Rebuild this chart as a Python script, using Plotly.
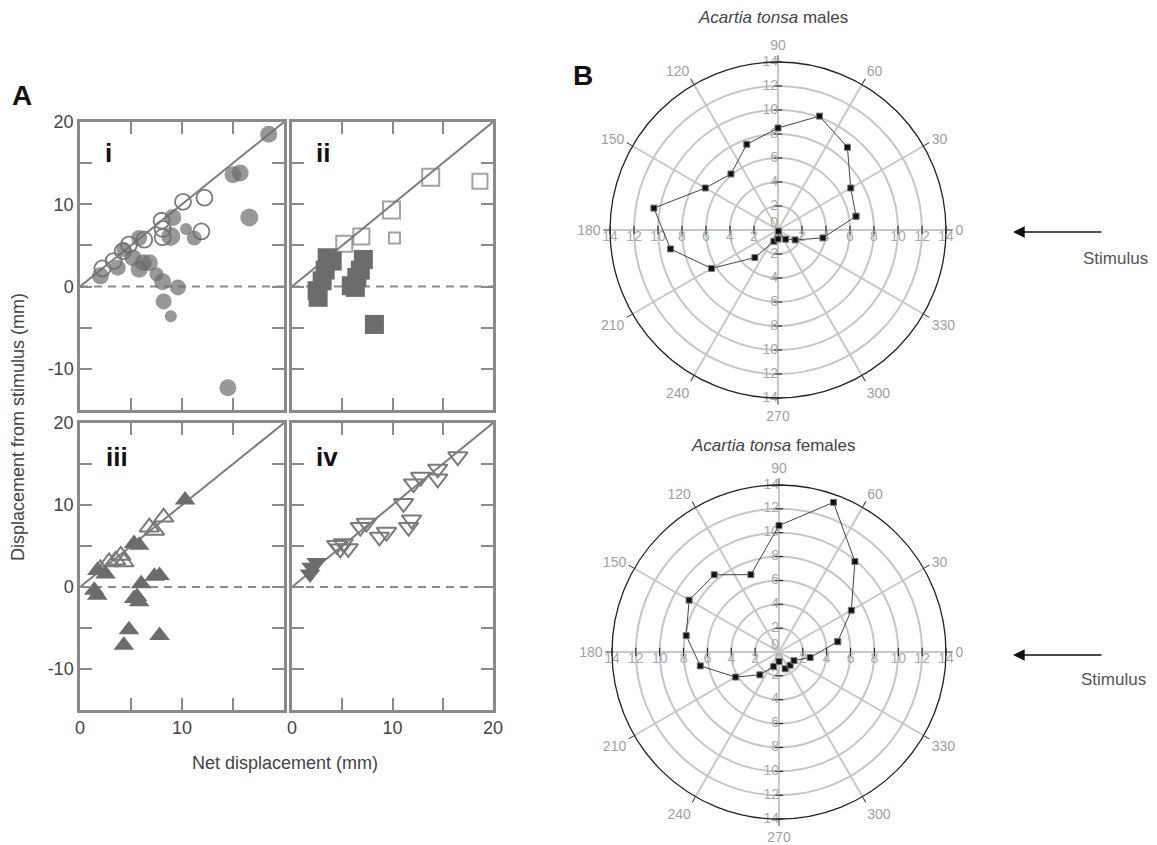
import plotly.graph_objects as go

W, H = 1157, 845
FONT = "Liberation Sans, Arial, sans-serif"

# ---------------- Panel A data ----------------
i_filled_x = [18.5, 15.0, 15.7, 16.6, 9.1, 8.9, 10.4, 11.2, 5.8, 4.3, 5.2, 6.2, 6.8, 5.8, 3.7, 2.0, 7.5, 8.1, 9.6, 8.2, 8.9, 14.5]
i_filled_y = [18.5, 13.6, 13.8, 8.4, 8.4, 6.1, 7.0, 5.9, 5.9, 4.5, 3.5, 2.9, 2.9, 2.1, 2.3, 1.3, 1.5, 0.6, -0.1, -1.8, -3.6, -12.3]
i_filled_s = [17, 17, 17, 18, 17, 19, 12, 15, 16, 15, 17, 17, 17, 17, 16, 17, 14, 17, 16, 16, 12, 17]
i_open_x = [12.2, 10.1, 8.0, 8.1, 8.1, 11.9, 6.3, 4.8, 4.2, 3.3, 2.2]
i_open_y = [10.8, 10.3, 8.0, 7.0, 6.0, 6.7, 5.7, 5.1, 4.3, 3.1, 2.2]

ii_open_x = [13.8, 18.7, 9.9, 6.9, 5.2, 10.2]
ii_open_y = [13.3, 12.8, 9.3, 6.1, 5.2, 5.9]
ii_open_s = [17, 15, 17, 16, 16, 11]
ii_filled_x = [3.5, 4.0, 3.3, 3.0, 2.5, 2.6, 7.1, 6.8, 6.45, 6.3, 5.9, 8.2]
ii_filled_y = [3.5, 3.1, 2.0, 0.7, -0.5, -1.3, 3.3, 2.0, 1.1, -0.1, 0.1, -4.6]

iii_filled_x = [10.3, 5.8, 5.3, 2.5, 1.7, 1.4, 1.7, 6.0, 5.6, 5.8, 5.3, 7.8, 7.3, 4.8, 4.3, 7.8]
iii_filled_y = [10.6, 5.1, 5.3, 1.6, 2.0, -0.4, -1.0, 0.4, -1.2, -1.8, -1.4, 1.4, 1.3, -5.2, -7.1, -5.9]
iii_open_x = [8.2, 6.8, 7.3, 4.0, 3.5, 2.85, 4.3, 2.0]
iii_open_y = [8.5, 7.3, 6.9, 3.85, 3.25, 3.05, 3.05, 2.2]

iv_open_x = [16.5, 14.5, 14.5, 12.8, 12.1, 11.1, 11.9, 11.6, 7.4, 6.8, 8.7, 9.4, 4.45, 5.1, 5.6, 4.8]
iv_open_y = [15.9, 14.4, 13.2, 13.4, 12.6, 10.2, 8.2, 7.3, 7.8, 7.3, 6.1, 6.7, 5.1, 5.3, 4.7, 4.65]
iv_filled_x = [1.95, 1.8, 2.45]
iv_filled_y = [2.4, 1.6, 3.0]

identity = [0, 20]          # y = x reference line
x_ticks = [0, 5, 10, 15, 20]
x_text_left = ["0", "", "10", "", ""]
x_text_right = ["0", "", "10", "", "20"]
y_ticks = [-15, -10, -5, 0, 5, 10, 15, 20]
y_text = ["", "-10", "", "0", "", "10", "", "20"]

# ---------------- Panel B data ----------------
theta_bins = [10, 30, 50, 70, 90, 110, 130, 150, 170, 190, 210, 230, 250, 270, 290, 310, 330, 350]
male_r = [6.6, 7.0, 9.0, 10.1, 8.5, 7.6, 6.1, 7.0, 10.5, 9.1, 6.4, 3.0, 1.0, 0.75, 0.1, 1.0, 1.65, 3.8]
female_r = [5.0, 7.0, 9.9, 13.35, 10.6, 6.9, 8.45, 8.7, 7.9, 6.7, 4.2, 2.5, 1.3, 0.8, 1.5, 1.45, 1.45, 2.65]
radial_ticks = [2, 4, 6, 8, 10, 12, 14]
angle_ticks = [0, 30, 60, 90, 120, 150, 180, 210, 240, 270, 300, 330]

GRAY_M = "#6c6c6c"
GRAY_O = "#7a7a7a"
FRAME = "#8a8a8a"

fig = go.Figure()

def px_x(p):
    return p / W

def px_y(p):
    return 1 - p / H

panels = [
    ("", (80, 284), (122, 410)),
    ("2", (292, 493), (122, 410)),
    ("3", (80, 284), (423, 710)),
    ("4", (292, 493), (423, 710)),
]

for suf, (x0, x1), (y0, y1) in panels:
    xa = "x" + suf
    ya = "y" + suf
    fig.add_trace(go.Scatter(x=identity, y=identity, mode="lines",
                             line=dict(color="#7c7c7c", width=2),
                             xaxis=xa, yaxis=ya, hoverinfo="skip", showlegend=False))
    fig.add_shape(type="line", xref=xa + " domain", yref=ya, x0=0, x1=1, y0=0, y1=0,
                  line=dict(color="#8c8c8c", width=2, dash="8px,6px"), layer="below")
    bottom = suf in ("3", "4")
    left = suf in ("", "3")
    fig.layout["xaxis" + suf] = dict(
        domain=[px_x(x0), px_x(x1)], range=[0, 20], anchor=ya, automargin=False,
        tickvals=x_ticks, ticktext=(x_text_right if suf == "4" else x_text_left),
        showticklabels=bottom, ticks="inside", ticklen=12, tickwidth=2, tickcolor=FRAME,
        showline=True, linecolor=FRAME, linewidth=2.5, mirror="ticks",
        showgrid=False, zeroline=False,
        tickfont=dict(family=FONT, size=18, color="#444"))
    fig.layout["yaxis" + suf] = dict(
        domain=[px_y(y1), px_y(y0)], range=[-15, 20], anchor=xa, automargin=False,
        tickvals=y_ticks, ticktext=y_text,
        showticklabels=left, ticks="inside", ticklen=12, tickwidth=2, tickcolor=FRAME,
        showline=True, linecolor=FRAME, linewidth=2.5, mirror="ticks",
        showgrid=False, zeroline=False,
        tickfont=dict(family=FONT, size=18, color="#444"))

fig.add_trace(go.Scatter(x=i_open_x, y=i_open_y, mode="markers", xaxis="x", yaxis="y",
                         marker=dict(symbol="circle-open", size=16, color=GRAY_O, line=dict(width=1.8)),
                         showlegend=False))
fig.add_trace(go.Scatter(x=i_filled_x, y=i_filled_y, mode="markers", xaxis="x", yaxis="y",
                         marker=dict(symbol="circle", size=i_filled_s, color=GRAY_M, line=dict(width=0)),
                         showlegend=False))
fig.add_trace(go.Scatter(x=ii_open_x, y=ii_open_y, mode="markers", xaxis="x2", yaxis="y2",
                         marker=dict(symbol="square-open", size=ii_open_s, color=GRAY_O, line=dict(width=2)),
                         showlegend=False))
fig.add_trace(go.Scatter(x=ii_filled_x, y=ii_filled_y, mode="markers", xaxis="x2", yaxis="y2",
                         marker=dict(symbol="square", size=19, color=GRAY_M, line=dict(width=0)),
                         showlegend=False))
fig.add_trace(go.Scatter(x=iii_open_x, y=iii_open_y, mode="markers", xaxis="x3", yaxis="y3",
                         marker=dict(symbol="triangle-up-open", size=17, color=GRAY_O, line=dict(width=2)),
                         showlegend=False))
fig.add_trace(go.Scatter(x=iii_filled_x, y=iii_filled_y, mode="markers", xaxis="x3", yaxis="y3",
                         marker=dict(symbol="triangle-up", size=18, color=GRAY_M, line=dict(width=0)),
                         showlegend=False))
fig.add_trace(go.Scatter(x=iv_open_x, y=iv_open_y, mode="markers", xaxis="x4", yaxis="y4",
                         marker=dict(symbol="triangle-down-open", size=17, color=GRAY_O, line=dict(width=2)),
                         showlegend=False))
fig.add_trace(go.Scatter(x=iv_filled_x, y=iv_filled_y, mode="markers", xaxis="x4", yaxis="y4",
                         marker=dict(symbol="triangle-down", size=18, color=GRAY_M, line=dict(width=0)),
                         showlegend=False))

# ---------------- Panel B polar ----------------
def polar_layout(cx, cy, rad):
    return dict(
        domain=dict(x=[px_x(cx - rad), px_x(cx + rad)], y=[px_y(cy + rad), px_y(cy - rad)]),
        bgcolor="white",
        radialaxis=dict(range=[0, 14], dtick=2, showticklabels=False, ticks="", showline=False,
                        gridcolor="#c6c6c6", gridwidth=1.5),
        angularaxis=dict(tickmode="array", tickvals=angle_ticks, ticktext=[str(a) for a in angle_ticks],
                         rotation=0, direction="counterclockwise",
                         ticks="outside", ticklen=6, tickwidth=1, tickcolor="#333",
                         tickfont=dict(family=FONT, size=14, color="#a0a0a0"),
                         showline=True, linecolor="#222", linewidth=1.3,
                         gridcolor="#c8c8c8", gridwidth=2),
    )

fig.layout.polar = polar_layout(778, 230, 168)
fig.layout.polar2 = polar_layout(779, 652, 167)

label_txt = [str(v) for v in radial_ticks]
lab_font = dict(family=FONT, size=14, color="#a8a8a8")
for sp in ("polar", "polar2"):
    for th, sym in ((90, "line-ew"), (270, "line-ew"), (0, "line-ns"), (180, "line-ns")):
        fig.add_trace(go.Scatterpolar(r=radial_ticks, theta=[th] * len(radial_ticks), mode="markers",
                                      marker=dict(symbol=sym, size=6, line=dict(color="#111", width=1)),
                                      subplot=sp, hoverinfo="skip", showlegend=False))
    for th, pos in ((90, "middle left"), (270, "middle left"), (0, "bottom center"), (180, "bottom center")):
        fig.add_trace(go.Scatterpolar(r=radial_ticks, theta=[th] * len(radial_ticks),
                                      mode="text", text=label_txt, textposition=pos, textfont=lab_font,
                                      subplot=sp, hoverinfo="skip", showlegend=False))
    # the two zero labels at the pole
    for th, pos in ((90, "top left"), (0, "bottom center")):
        fig.add_trace(go.Scatterpolar(r=[0], theta=[th], mode="text", text=["0"], textposition=pos,
                                      textfont=lab_font, subplot=sp, hoverinfo="skip", showlegend=False))

for sp, rr in (("polar", male_r), ("polar2", female_r)):
    fig.add_trace(go.Scatterpolar(r=rr + rr[:1], theta=theta_bins + theta_bins[:1], mode="lines+markers",
                                  line=dict(color="#444", width=1),
                                  marker=dict(symbol="square", size=6, color="#111",
                                              line=dict(color="#777", width=1)),
                                  subplot=sp, showlegend=False))

# ---------------- Annotations ----------------
ann = []
def txt(x, y, s, size, color="#333", bold=False, angle=0):
    ann.append(dict(x=px_x(x), y=px_y(y), xref="paper", yref="paper", text=(f"<b>{s}</b>" if bold else s),
                    showarrow=False, textangle=angle, xanchor="center", yanchor="middle",
                    font=dict(family=FONT, size=size, color=color)))

txt(22, 95, "A", 28, "#111", True)
txt(583, 75, "B", 28, "#111", True)
txt(108, 153, "i", 26, "#111", True)
txt(323, 153, "ii", 26, "#111", True)
txt(117, 457, "iii", 26, "#111", True)
txt(327, 457, "iv", 26, "#111", True)
txt(18, 427, "Displacement from stimulus (mm)", 18, "#444", angle=-90)
txt(285, 763, "Net displacement (mm)", 18, "#444")
txt(773, 18, "<i>Acartia tonsa</i> males", 17, "#444")
txt(773, 445, "<i>Acartia tonsa</i> females", 17, "#444")
txt(1115, 258, "Stimulus", 17, "#555")
txt(1113, 679, "Stimulus", 17, "#555")
for yy in (232, 655):
    ann.append(dict(x=px_x(1013), y=px_y(yy), xref="paper", yref="paper", ax=90, ay=0,
                    axref="pixel", ayref="pixel", text="", showarrow=True,
                    arrowhead=2, arrowsize=1.8, arrowwidth=1.3, arrowcolor="#111"))

fig.update_layout(width=W, height=H, margin=dict(l=0, r=0, t=0, b=0, autoexpand=False),
                  paper_bgcolor="white", plot_bgcolor="white", annotations=ann,
                  font=dict(family=FONT), showlegend=False)

fig.write_html("out.html", config={"displayModeBar": False},
               post_script="document.body.style.margin='0px';document.body.style.overflow='hidden';")
